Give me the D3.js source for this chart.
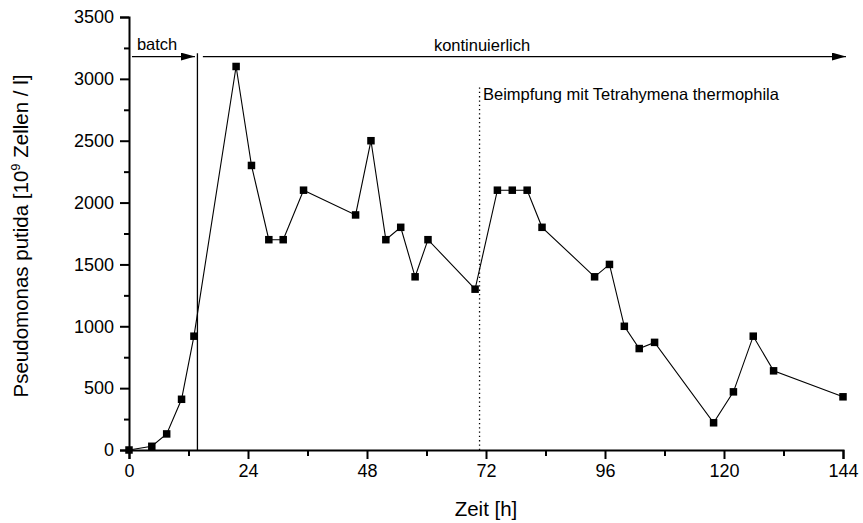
<!DOCTYPE html>
<html>
<head>
<meta charset="utf-8">
<script src="https://cdn.jsdelivr.net/npm/d3@7"></script>
<style>
  html, body { margin: 0; padding: 0; background: #fff; }
  text { font-family: "Liberation Sans", Arial, sans-serif; fill: #000; }
</style>
</head>
<body>
<svg id="chart" width="863" height="523"></svg>
<script>
// ---- data ----
const hours = [0, 4.6, 7.6, 10.6, 13.1, 21.6, 24.7, 28.2, 31.1, 35.2, 45.7, 48.8, 51.8, 54.8, 57.7, 60.3, 69.8, 74.3, 77.3, 80.3, 83.3, 93.9, 96.9, 99.9, 102.9, 106.0, 117.9, 121.9, 125.9, 130.0, 144.0];
const cells = [0, 30, 130, 410, 920, 3100, 2300, 1700, 1700, 2100, 1900, 2500, 1700, 1800, 1400, 1700, 1300, 2100, 2100, 2100, 1800, 1400, 1500, 1000, 820, 870, 220, 470, 920, 640, 430];
const xTicks = [0, 24, 48, 72, 96, 120, 144];
const yTicks = [0, 500, 1000, 1500, 2000, 2500, 3000, 3500];
const batchEnd = 13.8;      // end of batch phase (h)
const inoculation = 70.7;   // Beimpfung (h)
const phaseLevel = 3180;    // height of phase arrows
const labels = {
  batch: "batch",
  cont: "kontinuierlich",
  inoc: "Beimpfung mit Tetrahymena thermophila",
  x: "Zeit [h]"
};

// ---- scales ----
const svg = d3.select("#chart");
const x = d3.scaleLinear().domain([0, 144]).range([129, 843]);
const y = d3.scaleLinear().domain([0, 3500]).range([450, 17]);

// defs: arrowhead
svg.append("defs").append("marker")
  .attr("id", "arrow").attr("viewBox", "0 0 14 8")
  .attr("refX", 14).attr("refY", 4)
  .attr("markerWidth", 14).attr("markerHeight", 8)
  .attr("markerUnits", "userSpaceOnUse")
  .attr("orient", "auto")
  .append("path").attr("d", "M0,0 L14,4 L0,8 Z").attr("fill", "#000");

// ---- axes ----
const xAxis = svg.append("g").attr("transform", `translate(0,${y(0)})`)
  .call(d3.axisBottom(x).tickValues(xTicks).tickSize(9).tickPadding(5).tickFormat(d3.format("d")));
const xMinor = svg.append("g").attr("transform", `translate(0,${y(0)})`)
  .call(d3.axisBottom(x).tickValues(d3.range(12, 144, 24)).tickSize(6).tickFormat(""));
const yAxis = svg.append("g").attr("transform", `translate(${x(0)},0)`)
  .call(d3.axisLeft(y).tickValues(yTicks).tickSize(9).tickPadding(6).tickFormat(d3.format("d")));
const yMinor = svg.append("g").attr("transform", `translate(${x(0)},0)`)
  .call(d3.axisLeft(y).tickValues(d3.range(250, 3500, 500)).tickSize(5).tickFormat(""));

[xAxis, xMinor, yAxis, yMinor].forEach(g => {
  g.select(".domain").attr("stroke", "#000").attr("stroke-width", 2);
  g.selectAll(".tick line").attr("stroke", "#000").attr("stroke-width", 2);
  g.selectAll(".tick text").attr("font-size", 18).attr("font-family", "Liberation Sans, Arial, sans-serif");
});
xMinor.select(".domain").remove();
yMinor.select(".domain").remove();

// axis titles
svg.append("text").attr("x", 486).attr("y", 516)
  .attr("text-anchor", "middle").attr("font-size", 20.5).text(labels.x);

const yt = svg.append("text").attr("transform", "translate(28,236) rotate(-90)")
  .attr("text-anchor", "middle").attr("font-size", 20.5);
yt.append("tspan").text("Pseudomonas putida [10");
yt.append("tspan").attr("font-size", 13).attr("dy", -8).text("9");
yt.append("tspan").attr("dy", 8).text(" Zellen / l]");

// ---- annotations ----
// batch end vertical line
svg.append("line")
  .attr("x1", x(batchEnd)).attr("x2", x(batchEnd))
  .attr("y1", y(0)).attr("y2", y(3207))
  .attr("stroke", "#000").attr("stroke-width", 1.3);
// inoculation dotted line
svg.append("line")
  .attr("x1", x(inoculation)).attr("x2", x(inoculation))
  .attr("y1", y(0)).attr("y2", y(2935))
  .attr("stroke", "#000").attr("stroke-width", 1.3)
  .attr("stroke-dasharray", "1.3,3");
// batch arrow
svg.append("line")
  .attr("x1", x(0.6)).attr("x2", x(13.3))
  .attr("y1", y(phaseLevel)).attr("y2", y(phaseLevel))
  .attr("stroke", "#000").attr("stroke-width", 1.3)
  .attr("marker-end", "url(#arrow)");
// continuous arrow
svg.append("line")
  .attr("x1", x(14.9)).attr("x2", x(144.6))
  .attr("y1", y(phaseLevel)).attr("y2", y(phaseLevel))
  .attr("stroke", "#000").attr("stroke-width", 1.3)
  .attr("marker-end", "url(#arrow)");

svg.append("text").attr("x", x(1.6)).attr("y", 50)
  .attr("font-size", 16.5).text(labels.batch);
svg.append("text").attr("x", x(71.2)).attr("y", 50.5)
  .attr("text-anchor", "middle").attr("font-size", 16.5).text(labels.cont);
svg.append("text").attr("x", x(71.4)).attr("y", 100)
  .attr("font-size", 16.5).text(labels.inoc);

// ---- series ----
const pts = hours.map((h, i) => [h, cells[i]]);
svg.append("path").datum(pts)
  .attr("fill", "none").attr("stroke", "#000").attr("stroke-width", 1.1)
  .attr("d", d3.line().x(d => x(d[0])).y(d => y(d[1])));

const s = 7.5;
svg.append("g").selectAll("rect").data(pts).join("rect")
  .attr("x", d => x(d[0]) - s / 2).attr("y", d => y(d[1]) - s / 2)
  .attr("width", s).attr("height", s).attr("fill", "#000");
</script>
</body>
</html>
